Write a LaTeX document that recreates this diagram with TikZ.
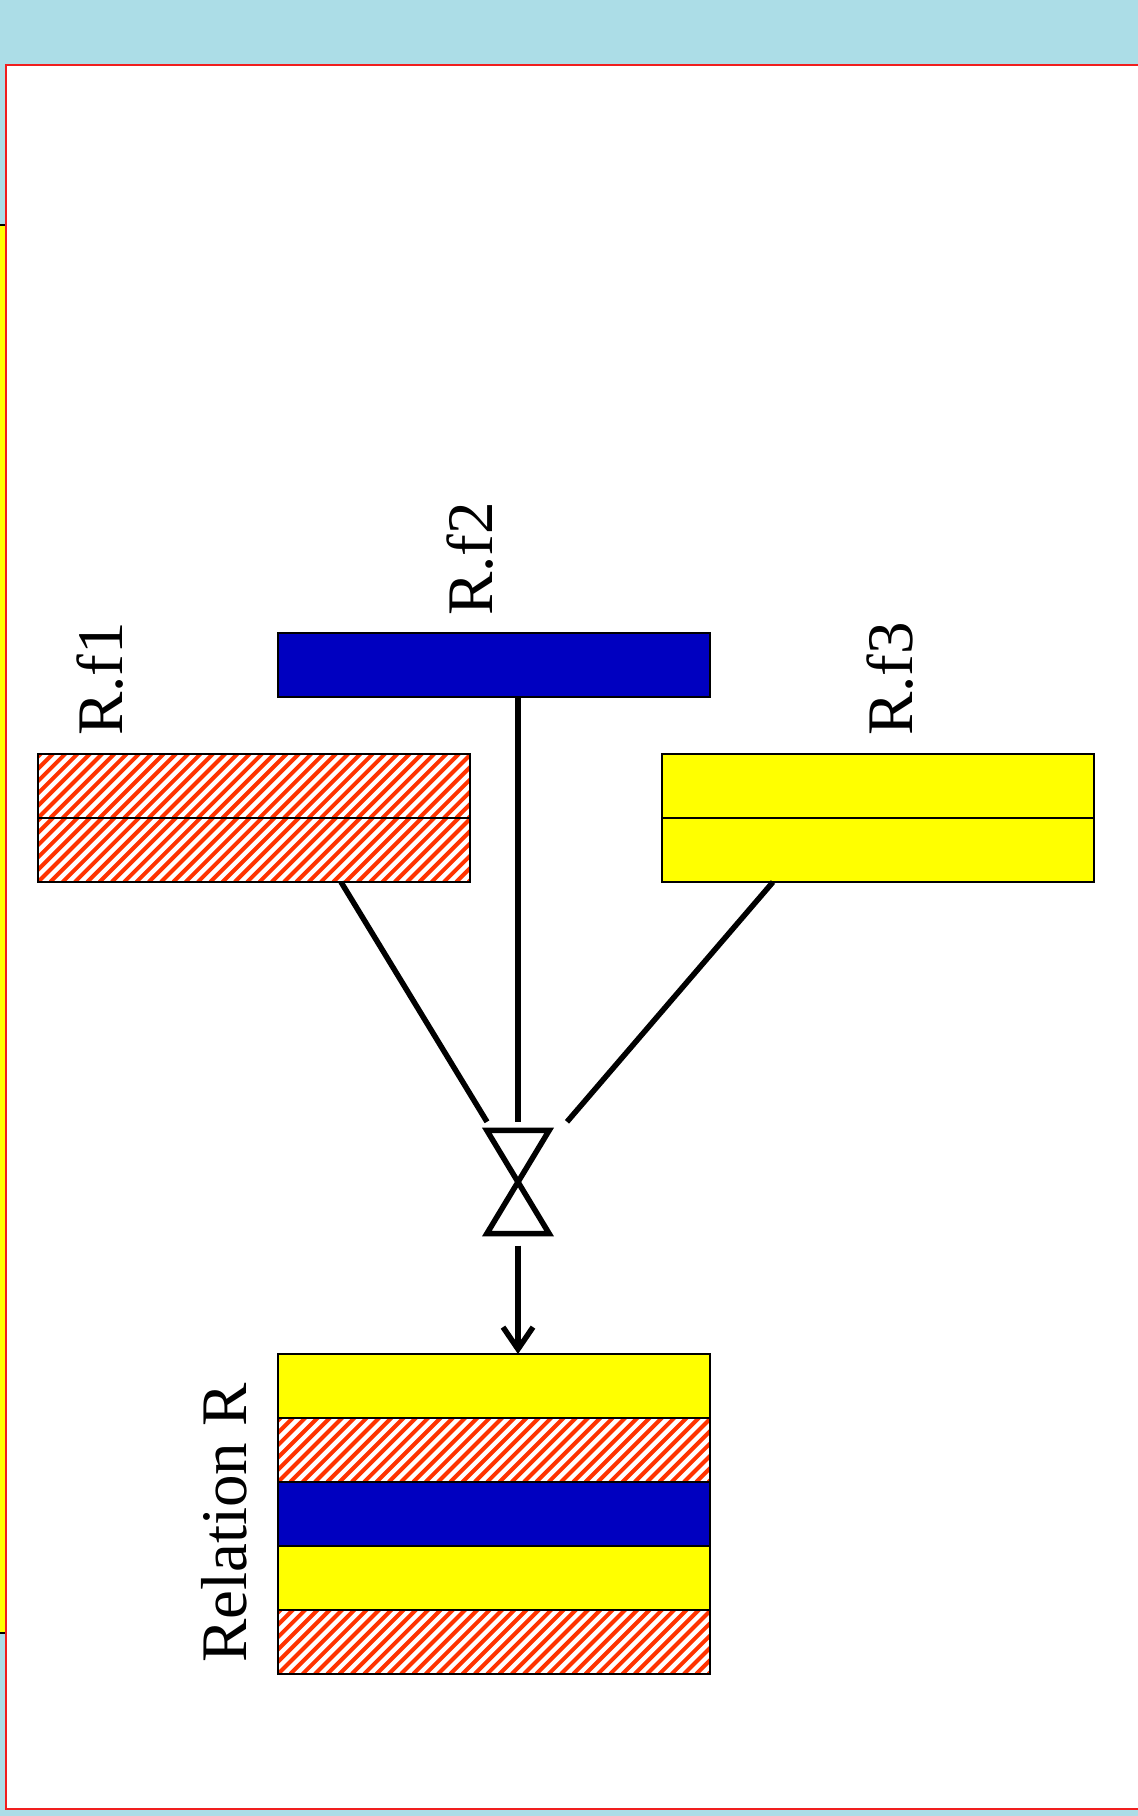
\documentclass[tikz,border=0pt]{standalone}
\usepackage{fontspec}
\setmainfont{Liberation Serif}
\usetikzlibrary{arrows.meta,calc}
\definecolor{bgblue}{RGB}{172,221,231}
\definecolor{hatchred}{RGB}{255,51,0}
\definecolor{fblue}{RGB}{0,0,192}
\definecolor{fyellow}{RGB}{255,255,0}
\definecolor{panelred}{RGB}{240,30,30}
\tikzset{
  field/.style={draw=black, line width=1.5pt, minimum width=432pt, minimum height=64pt,
    inner sep=0pt, outer sep=0pt, anchor=north west},
  yfield/.style={field, fill=fyellow},
  bfield/.style={field, fill=fblue},
  hfield/.style={field, fill=white, path picture={
      \coordinate (hsw) at (path picture bounding box.south west);
      \foreach \k in {-7,...,37}
        \draw[hatchred, line width=4pt] ($(hsw)+(\k*12.3,0)$) -- ++(90,-90);
  }},
  conn/.style={line width=5.5pt, draw=black},
  lbl/.style={rotate=90, anchor=base west, inner sep=0pt, font=\fontsize{65}{78}\selectfont},
}
\begin{document}
\begin{tikzpicture}[x=1pt,y=-1pt]
\useasboundingbox (0,0) rectangle (1138,1816);
% background
\fill[bgblue] (0,0) rectangle (1138,1816);
\fill[fyellow] (0,225) rectangle (6,1633);
\draw[black, line width=2pt] (0,225) -- (6,225) (0,1633) -- (6,1633);
\fill[white] (5.5,65) rectangle (1138,1809);
\draw[panelred, line width=2pt] (1138,65) -- (5.5,65) -- (5.5,1809) -- (1138,1809);

% fields
\node[hfield] (f1a) at (38,754) {};
\node[hfield] (f1b) at (38,818) {};
\node[bfield] (f2) at (278,633) {};
\node[yfield] (f3a) at (662,754) {};
\node[yfield] (f3b) at (662,818) {};

% relation R
\node[yfield] (r1) at (278,1354) {};
\node[hfield] (r2) at (278,1418) {};
\node[bfield] (r3) at (278,1482) {};
\node[yfield] (r4) at (278,1546) {};
\node[hfield] (r5) at (278,1610) {};

% labels
\node[lbl] (l1) at (122,736) {R.f1};
\node[lbl] (l2) at (492,616) {R.f2};
\node[lbl] (l3) at (912,736) {R.f3};
\node[lbl] (lr) at (246,1663) {Relation R};

% join symbol
\node[minimum width=62pt, minimum height=103pt, inner sep=0pt] (join) at (518,1182) {};
\draw[conn, line join=miter] (join.north west) -- (join.north east) -- (join.south west) -- (join.south east) -- cycle;
\coordinate (jl) at ($(join.north)+(-31,-8.5)$);
\coordinate (jm) at ($(join.north)+(0,-8.5)$);
\coordinate (jr) at ($(join.north)+(49,-8.5)$);
\coordinate (js) at ($(join.south)+(0,12)$);

% connectors
\draw[conn] ($(f1b.south west)+(303,0)$) -- (jl);
\draw[conn] (f2.south -| jm) -- (jm);
\draw[conn] ($(f3b.south west)+(111,0)$) -- (jr);
\draw[conn, -{Straight Barb[length=22pt,width=30pt]}] (js) -- (r1.north -| js);
\end{tikzpicture}
\end{document}
